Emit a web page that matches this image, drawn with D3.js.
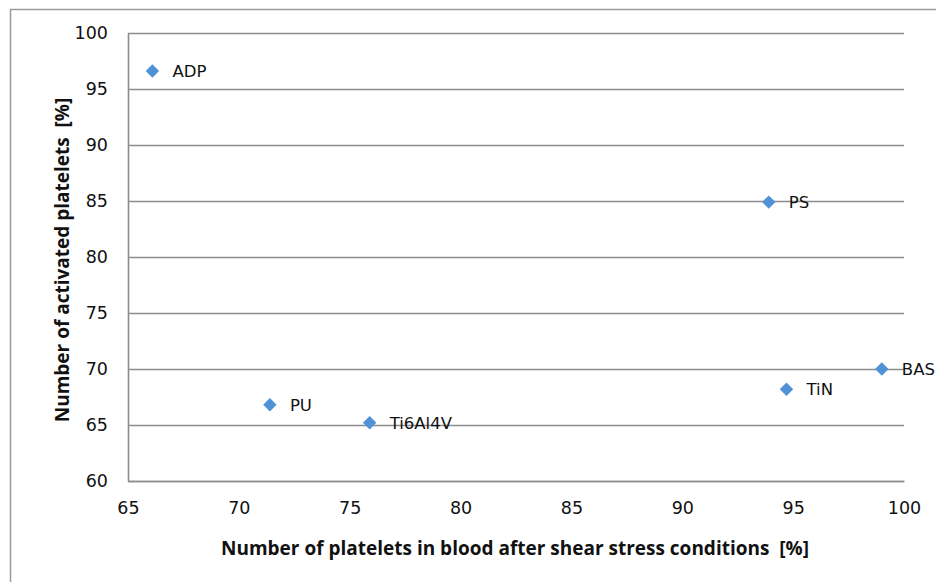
<!DOCTYPE html>
<html>
<head>
<meta charset="utf-8">
<script src="https://cdn.jsdelivr.net/npm/d3@7"></script>
<style>
  body { margin: 0; background: #fff; }
  text { font-family: "DejaVu Sans", sans-serif; fill: #111; }
  .title { font-family: "Open Sans", "DejaVu Sans", sans-serif; }
</style>
</head>
<body>
<svg id="chart" width="936" height="582"></svg>
<script>
// data
var labels = ["ADP", "PS", "BAS", "TiN", "PU", "Ti6Al4V"];
var plateletsInBlood = [66.1, 93.9, 99.0, 94.7, 71.4, 75.9];
var activatedPlatelets = [96.6, 84.9, 70.0, 68.2, 66.8, 65.2];
var xTicks = [65, 70, 75, 80, 85, 90, 95, 100];
var yTicks = [60, 65, 70, 75, 80, 85, 90, 95, 100];

var svg = d3.select("#chart"),
    margin = {top: 33, right: 32, bottom: 101, left: 128},
    width = +svg.attr("width") - margin.left - margin.right,
    height = +svg.attr("height") - margin.top - margin.bottom;

// outer frame (runs off the right/bottom edge)
svg.append("rect")
    .attr("x", 10.5).attr("y", 9.5)
    .attr("width", 940).attr("height", 600)
    .attr("fill", "none")
    .attr("stroke", "#9a9a9a")
    .attr("stroke-width", 1.5);

var x = d3.scaleLinear().domain([65, 100]).range([0, width]);
var y = d3.scaleLinear().domain([60, 100]).range([height, 0]);

var g = svg.append("g")
    .attr("transform", "translate(" + margin.left + "," + margin.top + ")");

// gridlines
g.append("g")
    .call(d3.axisLeft(y).tickValues(yTicks).tickSize(-width).tickFormat(""))
    .call(function(s) {
      s.select(".domain").remove();
      s.selectAll("line").attr("stroke", "#8c8c8c").attr("stroke-width", 1.6);
    });

// y axis
g.append("g")
    .call(d3.axisLeft(y).tickValues(yTicks).tickSize(0).tickPadding(20))
    .call(function(s) {
      s.select(".domain").attr("stroke", "#8c8c8c").attr("stroke-width", 1.6);
      s.selectAll("text").style("font-size", "17.5px").attr("fill", "#111")
        .style("font-family", "DejaVu Sans, sans-serif");
    });

// x axis
g.append("g")
    .attr("transform", "translate(0," + height + ")")
    .call(d3.axisBottom(x).tickValues(xTicks).tickSize(0).tickPadding(21))
    .call(function(s) {
      s.select(".domain").attr("stroke", "#8c8c8c").attr("stroke-width", 1.6);
      s.selectAll("text").style("font-size", "17.5px").attr("fill", "#111")
        .style("font-family", "DejaVu Sans, sans-serif");
    });

// points
var pts = labels.map(function(l, i) {
  return {label: l, x: plateletsInBlood[i], y: activatedPlatelets[i]};
});

var diamond = d3.symbol().type(d3.symbolDiamond2).size(115);

var pg = g.selectAll("g.pt")
    .data(pts)
    .enter()
    .append("g")
    .attr("class", "pt")
    .attr("transform", function(d) { return "translate(" + x(d.x) + "," + y(d.y) + ")"; });

pg.append("path")
    .attr("d", diamond)
    .attr("fill", "#4f93d6");

pg.append("text")
    .attr("x", 20)
    .attr("dy", "0.36em")
    .style("font-size", "16.5px")
    .text(function(d) { return d.label; });

// axis titles
svg.append("text")
    .attr("class", "title")
    .attr("x", 515)
    .attr("y", 555)
    .attr("text-anchor", "middle")
    .style("font-size", "19px")
    .style("font-weight", "bold")
    .style("white-space", "pre")
    .text("Number of platelets in blood after shear stress conditions  [%]");

svg.append("text")
    .attr("class", "title")
    .attr("transform", "translate(69,260) rotate(-90)")
    .attr("text-anchor", "middle")
    .style("font-size", "19px")
    .style("font-weight", "bold")
    .style("white-space", "pre")
    .text("Number of activated platelets  [%]");
</script>
</body>
</html>
